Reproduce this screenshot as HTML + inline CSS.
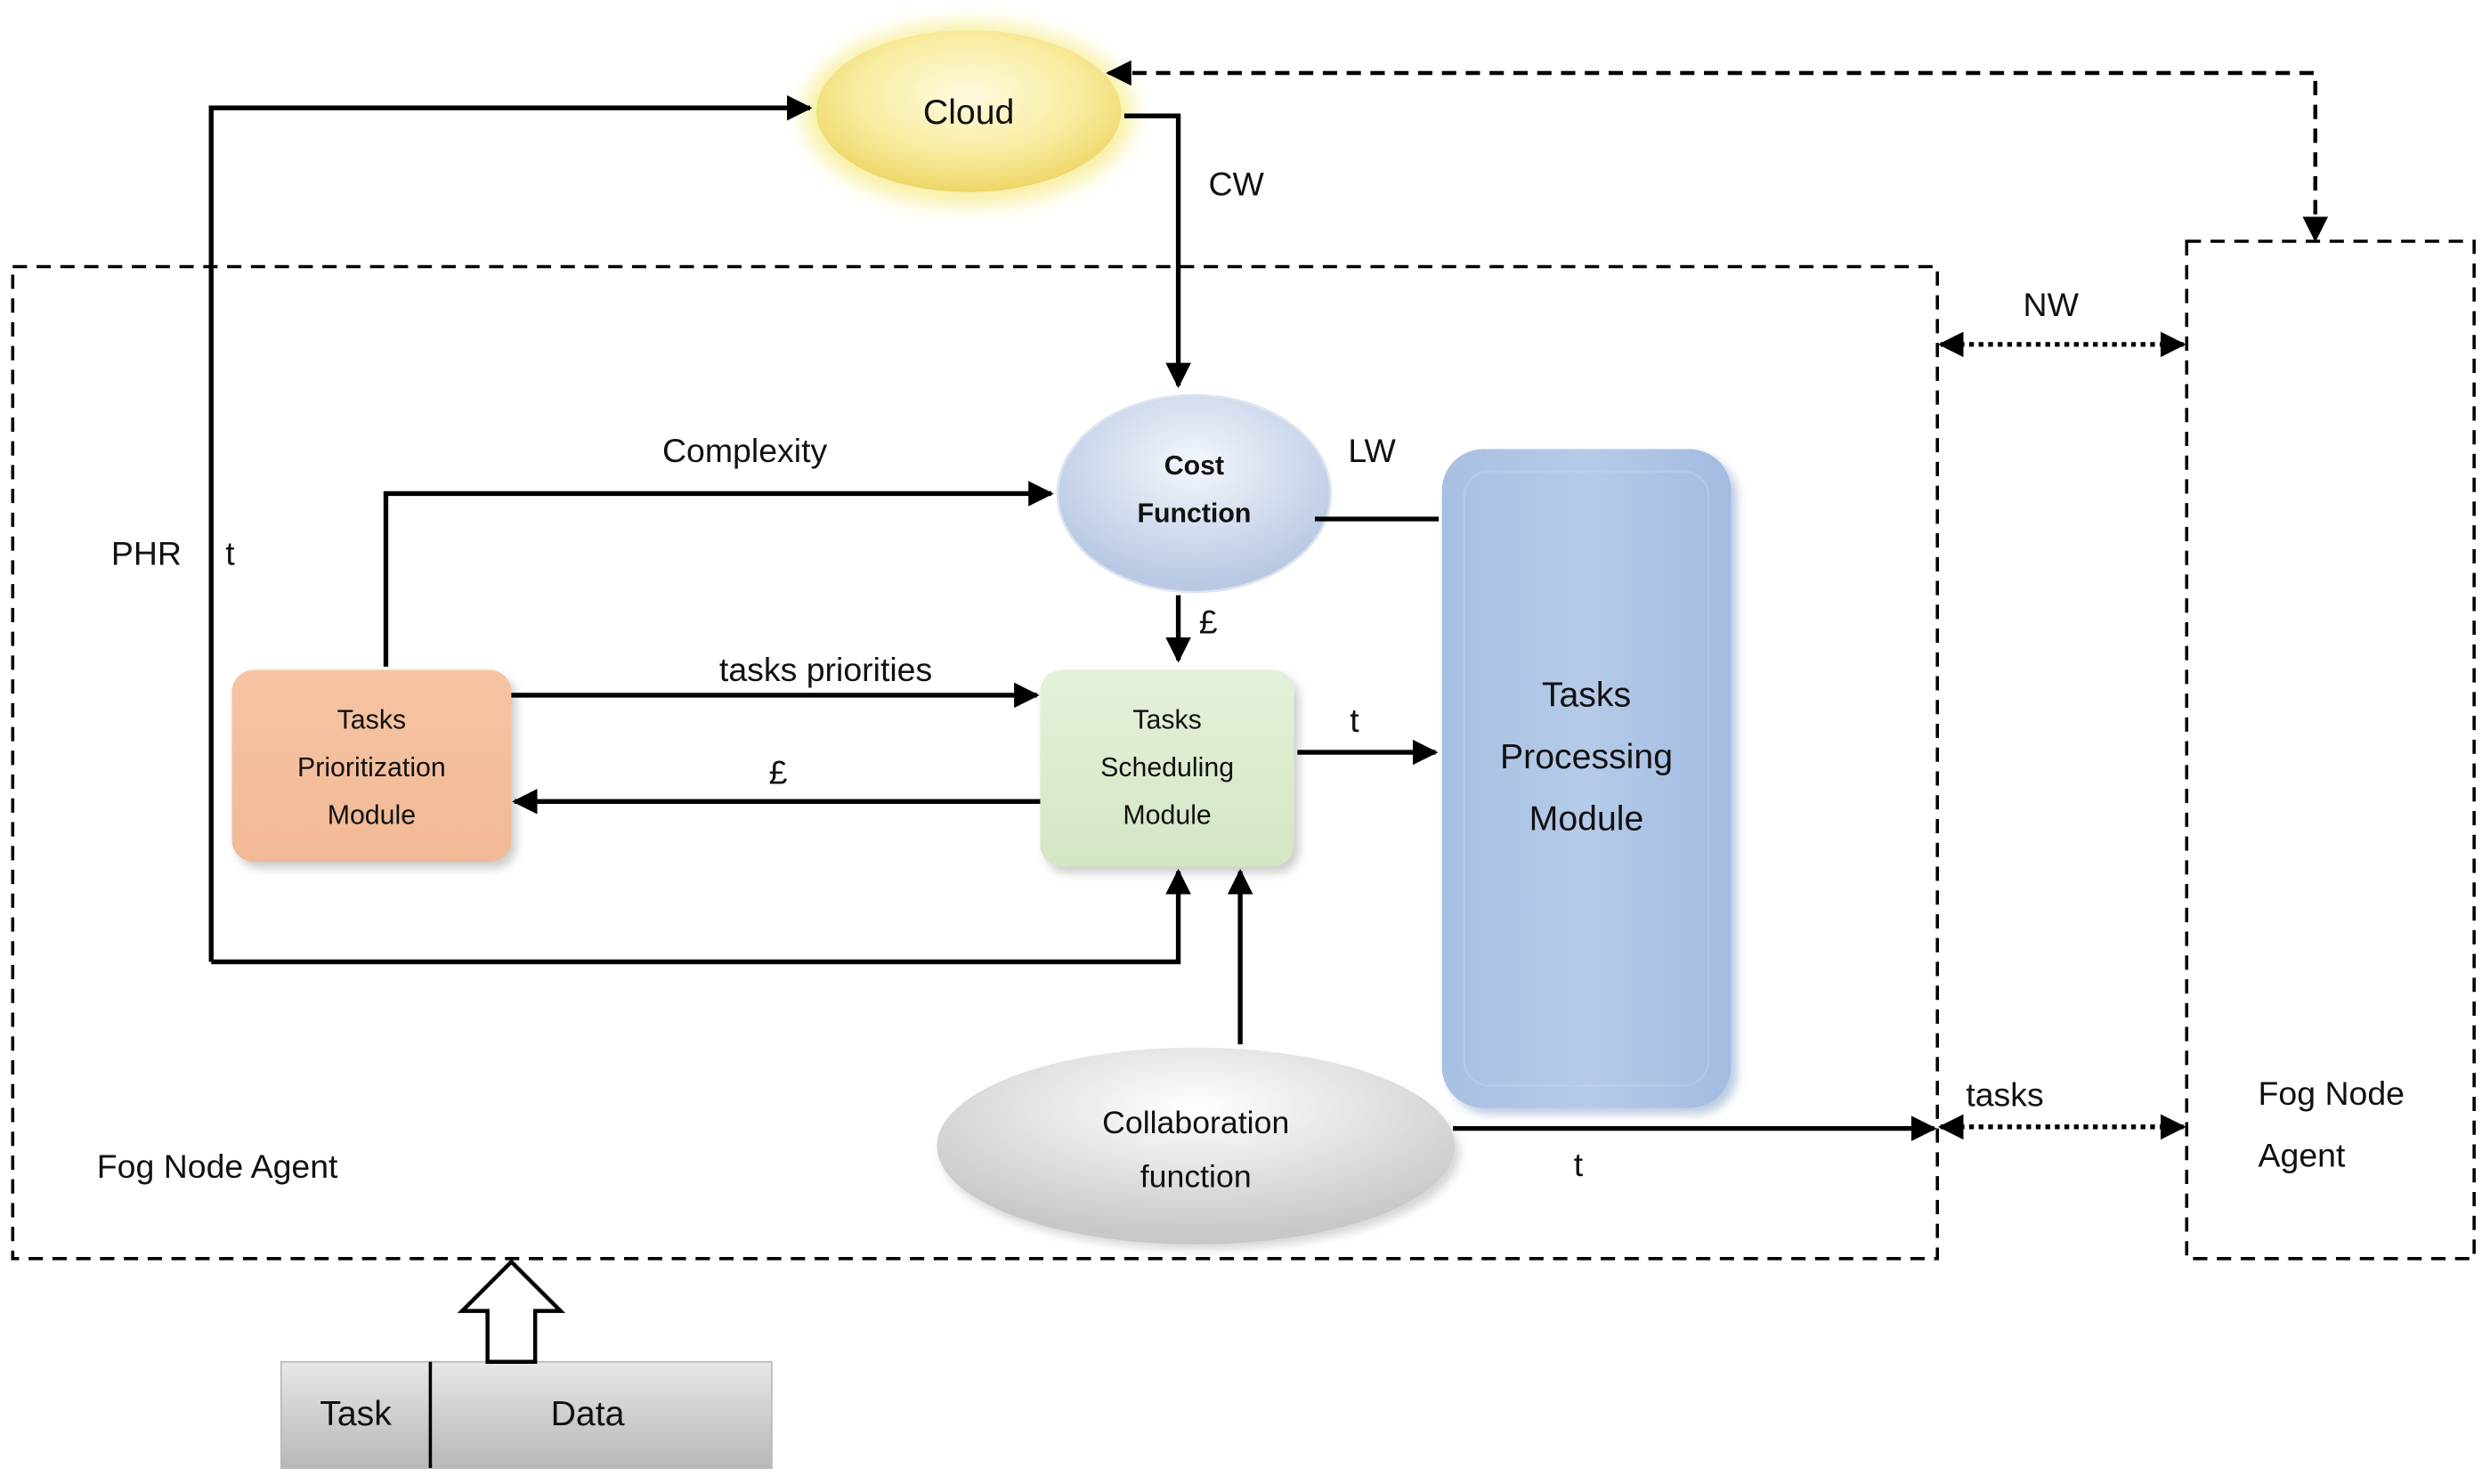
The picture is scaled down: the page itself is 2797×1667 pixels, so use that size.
<!DOCTYPE html>
<html><head><meta charset="utf-8"><style>
html,body{margin:0;padding:0;background:#fff;}
svg{display:block;}
text{font-family:"Liberation Sans","DejaVu Sans",sans-serif;fill:#111;}
</style></head><body>
<svg width="2797" height="1667" viewBox="0 0 1568 935" preserveAspectRatio="none" xmlns="http://www.w3.org/2000/svg">
<defs>
<marker id="a2" viewBox="0 0 10 10" refX="9" refY="5" markerWidth="16" markerHeight="16" orient="auto-start-reverse" markerUnits="userSpaceOnUse">
<path d="M0,0 L10,5 L0,10 z" fill="#000"/></marker>
<radialGradient id="gc" cx="50%" cy="40%" r="60%"><stop offset="0" stop-color="#fffbe0"/><stop offset="0.6" stop-color="#f8eca0"/><stop offset="1" stop-color="#eed667"/></radialGradient>
<radialGradient id="gcost" cx="50%" cy="35%" r="60%"><stop offset="0" stop-color="#f4f7fc"/><stop offset="1" stop-color="#b9c9e4"/></radialGradient>
<radialGradient id="gcol" cx="50%" cy="30%" r="65%"><stop offset="0" stop-color="#ffffff"/><stop offset="1" stop-color="#c8c8c8"/></radialGradient>
<linearGradient id="gp" x1="0" y1="0" x2="0" y2="1"><stop offset="0" stop-color="#f6c4a4"/><stop offset="1" stop-color="#f2b995"/></linearGradient>
<linearGradient id="gs" x1="0" y1="0" x2="0" y2="1"><stop offset="0" stop-color="#e6f0da"/><stop offset="1" stop-color="#d3e6c4"/></linearGradient>
<linearGradient id="gt" x1="0" y1="0" x2="1" y2="0"><stop offset="0" stop-color="#a7bfe2"/><stop offset="0.5" stop-color="#b5cbe9"/><stop offset="1" stop-color="#a3bbe0"/></linearGradient>
<linearGradient id="gd" x1="0" y1="0" x2="0" y2="1"><stop offset="0" stop-color="#e8e8e8"/><stop offset="0.5" stop-color="#cfcfcf"/><stop offset="1" stop-color="#b8b8b8"/></linearGradient>
<filter id="glow" x="-30%" y="-40%" width="160%" height="180%"><feGaussianBlur stdDeviation="6"/></filter>
<filter id="sh" x="-20%" y="-20%" width="140%" height="140%"><feGaussianBlur stdDeviation="3"/></filter>
</defs>

<rect x="8" y="168" width="1212" height="625" fill="none" stroke="#000" stroke-width="2" stroke-dasharray="9,6"/>
<rect x="1377" y="152" width="181" height="641" fill="none" stroke="#000" stroke-width="2" stroke-dasharray="9,6"/>

<ellipse cx="610" cy="72" rx="104" ry="58" fill="#f6ea80" opacity="0.7" filter="url(#glow)"/>
<ellipse cx="610" cy="70" rx="96" ry="51" fill="url(#gc)"/>
<text x="610" y="78" font-size="22" text-anchor="middle">Cloud</text>

<ellipse cx="752" cy="311" rx="86" ry="62" fill="url(#gcost)" stroke="#dde4f0" stroke-width="1.5"/>
<text x="752" y="299" font-size="17" font-weight="bold" text-anchor="middle">Cost</text>
<text x="752" y="329" font-size="17" font-weight="bold" text-anchor="middle">Function</text>

<rect x="912" y="287" width="182" height="415" rx="26" fill="#8fa8cc" opacity="0.6" filter="url(#sh)"/>
<rect x="908" y="283" width="182" height="415" rx="26" fill="url(#gt)"/>
<rect x="922" y="297" width="154" height="387" rx="16" fill="none" stroke="#c6d6ee" stroke-width="1.5" opacity="0.4"/>
<text x="999" y="445" font-size="22" text-anchor="middle">Tasks</text>
<text x="999" y="484" font-size="22" text-anchor="middle">Processing</text>
<text x="999" y="523" font-size="22" text-anchor="middle">Module</text>

<rect x="149" y="426" width="176" height="121" rx="14" fill="#999" opacity="0.5" filter="url(#sh)"/>
<rect x="146" y="422" width="176" height="121" rx="14" fill="url(#gp)"/>
<text x="234" y="459" font-size="17" text-anchor="middle">Tasks</text>
<text x="234" y="489" font-size="17" text-anchor="middle">Prioritization</text>
<text x="234" y="519" font-size="17" text-anchor="middle">Module</text>

<rect x="658" y="426" width="160" height="124" rx="14" fill="#999" opacity="0.5" filter="url(#sh)"/>
<rect x="655" y="422" width="160" height="124" rx="14" fill="url(#gs)"/>
<text x="735" y="459" font-size="17" text-anchor="middle">Tasks</text>
<text x="735" y="489" font-size="17" text-anchor="middle">Scheduling</text>
<text x="735" y="519" font-size="17" text-anchor="middle">Module</text>

<ellipse cx="756" cy="727" rx="163" ry="60" fill="#aaa" opacity="0.5" filter="url(#sh)"/>
<ellipse cx="753" cy="722" rx="163" ry="62" fill="url(#gcol)"/>
<text x="753" y="714" font-size="20" text-anchor="middle">Collaboration</text>
<text x="753" y="748" font-size="20" text-anchor="middle">function</text>

<rect x="177" y="858" width="309" height="67" fill="url(#gd)" stroke="#bbb"/>
<line x1="271" y1="858" x2="271" y2="925" stroke="#000" stroke-width="2"/>
<text x="224" y="898" font-size="22" text-anchor="middle">Task</text>
<text x="370" y="898" font-size="22" text-anchor="middle">Data</text>
<path d="M307,858 L307,826 L291,826 L322,795 L353,826 L337,826 L337,858 Z" fill="#fff" stroke="#000" stroke-width="2.5"/>

<g fill="none" stroke="#000" stroke-width="3">
<polyline points="133,606 133,68 510,68" marker-end="url(#a2)"/>
<polyline points="133,606 742,606 742,549" marker-end="url(#a2)"/>
<polyline points="708,73 742,73 742,243" marker-end="url(#a2)"/>
<polyline points="243,420 243,311 662,311" marker-end="url(#a2)"/>
<line x1="828" y1="327" x2="906" y2="327"/>
<line x1="742" y1="375" x2="742" y2="416" marker-end="url(#a2)"/>
<line x1="322" y1="438" x2="653" y2="438" marker-end="url(#a2)"/>
<line x1="655" y1="505" x2="324" y2="505" marker-end="url(#a2)"/>
<line x1="817" y1="474" x2="904" y2="474" marker-end="url(#a2)"/>
<line x1="781" y1="658" x2="781" y2="549" marker-end="url(#a2)"/>
<line x1="915" y1="711" x2="1218" y2="711" marker-end="url(#a2)"/>
</g>
<g fill="none" stroke="#000" stroke-width="3" stroke-dasharray="3,3">
<line x1="1222" y1="217" x2="1375" y2="217" marker-start="url(#a2)" marker-end="url(#a2)"/>
<line x1="1222" y1="710" x2="1375" y2="710" marker-start="url(#a2)" marker-end="url(#a2)"/>
</g>
<polyline points="698,46 1458,46 1458,151" fill="none" stroke="#000" stroke-width="2.5" stroke-dasharray="9,6" marker-start="url(#a2)" marker-end="url(#a2)"/>

<g font-size="21">
<text x="761" y="123">CW</text>
<text x="849" y="291">LW</text>
<text x="469" y="291" text-anchor="middle">Complexity</text>
<text x="70" y="356">PHR</text>
<text x="142" y="356">t</text>
<text x="755" y="399">£</text>
<text x="520" y="429" text-anchor="middle">tasks priorities</text>
<text x="490" y="494" text-anchor="middle">£</text>
<text x="850" y="461">t</text>
<text x="991" y="741">t</text>
<text x="1238" y="697">tasks</text>
<text x="1274" y="199">NW</text>
<text x="61" y="742">Fog Node Agent</text>
<text x="1422" y="696">Fog Node</text>
<text x="1422" y="735">Agent</text>
</g>
</svg>
</body></html>
